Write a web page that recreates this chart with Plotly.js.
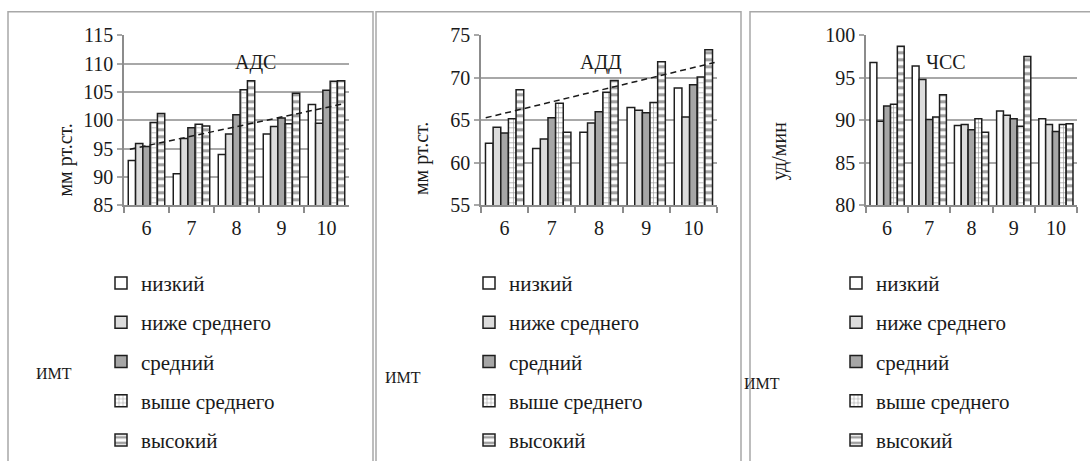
<!DOCTYPE html>
<html>
<head>
<meta charset="utf-8">
<script src="https://cdn.plot.ly/plotly-3.0.1.min.js"></script>
<style>
  html, body { margin: 0; padding: 0; background: #fff; font-family: 'Liberation Serif', serif; }
  #chart { width: 1090px; height: 461px; }
  #chart svg text { font-family: 'Liberation Serif', 'DejaVu Serif', serif !important; }
</style>
</head>
<body>
<div id="chart"></div>
<script>
// Age groups (years) and BMI levels
const categories = ['6', '7', '8', '9', '10'];
const levels = ['низкий', 'ниже среднего', 'средний', 'выше среднего', 'высокий'];

// Systolic pressure, mm Hg
const adsLow     = [92.9, 90.6, 94.0, 97.6, 102.8];
const adsBelow   = [95.9, 96.8, 97.6, 98.9, 99.5];
const adsMid     = [95.4, 98.7, 101.0, 100.4, 105.3];
const adsAbove   = [99.6, 99.3, 105.4, 99.4, 106.9];
const adsHigh    = [101.2, 99.0, 107.0, 104.8, 107.0];
const adsTrendX  = [5.63, 10.37];
const adsTrendY  = [94.9, 102.9];

// Diastolic pressure, mm Hg
const addLow     = [62.3, 61.7, 63.6, 66.5, 68.8];
const addBelow   = [64.2, 62.8, 64.7, 66.2, 65.4];
const addMid     = [63.5, 65.3, 66.0, 65.9, 69.2];
const addAbove   = [65.2, 67.0, 68.3, 67.1, 70.1];
const addHigh    = [68.6, 63.6, 69.7, 71.9, 73.3];
const addTrendX  = [5.6, 10.45];
const addTrendY  = [65.3, 71.8];

// Heart rate, beats/min
const hrLow      = [96.8, 96.4, 89.4, 91.1, 90.2];
const hrBelow    = [89.9, 94.8, 89.5, 90.6, 89.5];
const hrMid      = [91.7, 90.1, 88.9, 90.2, 88.7];
const hrAbove    = [91.9, 90.4, 90.2, 89.3, 89.5];
const hrHigh     = [98.7, 93.0, 88.6, 97.5, 89.6];

const W = 1090, H = 461;
const px = v => v / W;
const py = v => 1 - v / H;

const FAMILY = 'Liberation Serif';
const outline = { color: '#1e1e1e', width: 1.5 };

// Fill style of each BMI level
const styles = [
  { color: '#ffffff', pattern: { shape: '' } },
  { color: '#dcdcdc', pattern: { shape: '' } },
  { color: '#a6a6a6', pattern: { shape: '' } },
  { color: '#ffffff', pattern: { shape: '+', fgcolor: '#9a9a9a', bgcolor: '#ffffff', size: 5, solidity: 0.25 } },
  { color: '#ffffff', pattern: { shape: '-', fgcolor: '#a0a0a0', bgcolor: '#ffffff', size: 7, solidity: 0.45 } }
];

const panels = [
  { series: [adsLow, adsBelow, adsMid, adsAbove, adsHigh], xa: 'x', ya: 'y', legend: 'legend' },
  { series: [addLow, addBelow, addMid, addAbove, addHigh], xa: 'x2', ya: 'y2', legend: 'legend2' },
  { series: [hrLow, hrBelow, hrMid, hrAbove, hrHigh], xa: 'x3', ya: 'y3', legend: 'legend3' }
];

const data = [];
panels.forEach((p, pi) => {
  p.series.forEach((vals, i) => {
    data.push({
      type: 'bar',
      x: categories,
      y: vals,
      name: levels[i],
      xaxis: p.xa,
      yaxis: p.ya,
      legend: p.legend,
      legendgroup: 'g' + pi + '_' + i,
      marker: { color: styles[i].color, pattern: styles[i].pattern, line: outline }
    });
  });
});

// Linear trends for the blood pressure panels
data.push({
  type: 'scatter', mode: 'lines', x: adsTrendX, y: adsTrendY,
  xaxis: 'x4', yaxis: 'y', showlegend: false,
  line: { color: '#1a1a1a', width: 1.5, dash: '6px,4px' }
});
data.push({
  type: 'scatter', mode: 'lines', x: addTrendX, y: addTrendY,
  xaxis: 'x5', yaxis: 'y2', showlegend: false,
  line: { color: '#1a1a1a', width: 1.5, dash: '6px,4px' }
});

const yDom = [py(209.5), py(36)];
const mkFont = (size) => ({ family: FAMILY, size: size, color: '#1a1a1a' });

function xCat(domain) {
  return {
    type: 'category', domain: domain, range: [-0.5, 4.5],
    tickson: 'boundaries', ticks: 'outside', ticklen: 6, tickwidth: 1.5, tickcolor: '#8c8c8c',
    showline: true, linecolor: '#8c8c8c', linewidth: 1.5,
    showgrid: false, tickfont: mkFont(20), ticklabelstandoff: 4, fixedrange: true
  };
}
function yVal(range) {
  return {
    domain: yDom, range: range, dtick: 5, tick0: 0,
    showgrid: true, gridcolor: '#a8a8a8', gridwidth: 1.5,
    ticks: 'outside', ticklen: 5, tickwidth: 1.5, tickcolor: '#a8a8a8',
    showline: true, linecolor: '#8c8c8c', linewidth: 1.5,
    zeroline: false, tickfont: mkFont(20), fixedrange: true
  };
}
function xTrend(over) {
  return { overlaying: over, range: [5.5, 10.5], visible: false, fixedrange: true };
}

function legendAt(x, y) {
  return {
    orientation: 'v', yanchor: 'top', xanchor: 'left', x: x, y: y,
    font: mkFont(21),
    bgcolor: 'rgba(0,0,0,0)', borderwidth: 0, tracegroupgap: 9, traceorder: 'grouped'
  };
}

const panelBox = (x0, x1) => ({
  type: 'rect', xref: 'paper', yref: 'paper',
  x0: px(x0), x1: px(x1), y0: py(475), y1: py(12),
  line: { color: '#a8a8a8', width: 1.5 }, fillcolor: 'rgba(0,0,0,0)', layer: 'below'
});

const note = (text, x, y, size, angle) => ({
  text: text, x: px(x), y: py(y), xref: 'paper', yref: 'paper',
  showarrow: false, textangle: angle || 0, font: mkFont(size)
});

const layout = {
  width: W, height: H,
  margin: { l: 0, r: 0, t: 0, b: 0 },
  paper_bgcolor: '#ffffff', plot_bgcolor: 'rgba(0,0,0,0)',
  barmode: 'group', bargap: 0.19, bargroupgap: 0,
  font: mkFont(20),
  xaxis: xCat([px(124), px(349)]),
  xaxis2: xCat([px(481), px(717)]),
  xaxis3: xCat([px(866), px(1077)]),
  xaxis4: xTrend('x'),
  xaxis5: xTrend('x2'),
  yaxis: Object.assign(yVal([85, 115]), { anchor: 'x' }),
  yaxis2: Object.assign(yVal([55, 75]), { anchor: 'x2' }),
  yaxis3: Object.assign(yVal([80, 100]), { anchor: 'x3' }),
  legend: legendAt(px(101), py(268)),
  legend2: legendAt(px(469), py(268)),
  legend3: legendAt(px(836), py(268)),
  shapes: [panelBox(8, 373), panelBox(376, 741), panelBox(750, 1100)],
  annotations: [
    note('АДС', 233, 50, 20),
    note('АДД', 601, 50, 20),
    note('ЧСС', 968, 50, 20),
    note('мм рт.ст.', 52, 124, 20, -90),
    note('мм рт.ст.', 421, 123, 20, -90),
    note('уд/мин', 793, 122, 20, -90),
    note('ИМТ', 34, 392, 16),
    note('ИМТ', 403, 396, 16),
    note('ИМТ', 782, 402, 16)
  ]
};

const config = { displayModeBar: false };
Plotly.newPlot('chart', data, layout, config);

// Redraw once the serif face is available so text is measured with it
if (document.fonts && document.fonts.load) {
  Promise.all([
    document.fonts.load('20px "Liberation Serif"', 'АДСмм0123456789'),
    document.fonts.load('20px "DejaVu Serif"', 'АДС')
  ]).then(() => Plotly.react('chart', data, layout, config))
    .catch(() => {});
}
</script>
</body>
</html>
